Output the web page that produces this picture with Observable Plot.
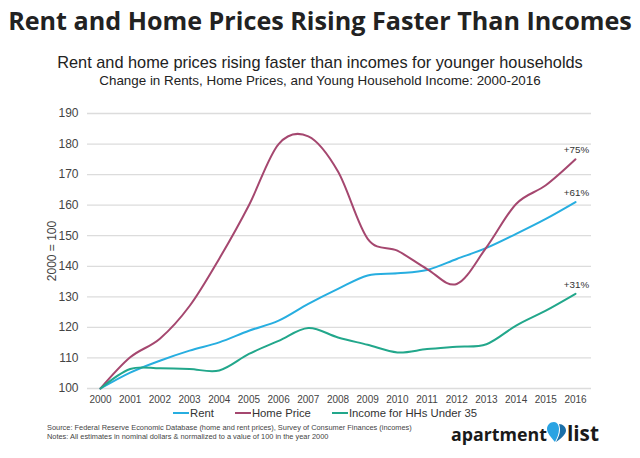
<!DOCTYPE html>
<html><head><meta charset="utf-8">
<script src="https://cdn.jsdelivr.net/npm/d3@7"></script>
<script src="https://cdn.jsdelivr.net/npm/@observablehq/plot@0.6"></script>
<style>
body{margin:0;background:#fff;width:640px;height:458px;position:relative;overflow:hidden;font-family:"Liberation Sans",Arial,sans-serif;color:#222}
.row{position:absolute;left:0;width:640px;text-align:center;white-space:nowrap}
.fit{display:inline-block;white-space:nowrap}
#title{top:3px;line-height:34px}
#title .fit{font-family:"Open Sans",sans-serif;font-weight:700;font-size:26px;color:#222}
#sub1{top:52px;line-height:20px}
#sub1 .fit{font-size:17px;color:#222}
#sub2{top:72px;line-height:16px}
#sub2 .fit{font-size:13px;color:#222}
#chart{position:absolute;left:0;top:90px}
#legend{position:absolute;top:406px;left:173px;line-height:14px;font-size:11.3px;color:#333;white-space:nowrap}
#legend .item{display:inline-block;margin-right:21px}
#legend .sw{display:inline-block;width:16px;height:2px;vertical-align:middle;margin-right:1px;position:relative;top:-1px}
#source{position:absolute;left:47px;top:423px;font-size:7.4px;line-height:9px;color:#444;white-space:nowrap}
#logo{position:absolute;left:451px;top:420px;white-space:nowrap;font-family:"Open Sans",sans-serif;font-weight:700;font-size:22px;line-height:24px;color:#1a1a1a}
#logo svg{vertical-align:-2px}
</style></head><body>
<div id="title" class="row"><span class="fit" data-w="624">Rent and Home Prices Rising Faster Than Incomes</span></div>
<div id="sub1" class="row"><span class="fit" data-w="526">Rent and home prices rising faster than incomes for younger households</span></div>
<div id="sub2" class="row"><span class="fit" data-w="442">Change in Rents, Home Prices, and Young Household Income: 2000-2016</span></div>
<div id="chart"></div>
<div id="legend"></div>
<div id="source"><span class="fit" data-w="365">Source: Federal Reserve Economic Database (home and rent prices), Survey of Consumer Finances (incomes)</span><br><span>Notes: All estimates in nominal dollars &amp; normalized to a value of 100 in the year 2000</span></div>
<div id="logo"><span class="fit" data-w="96">apartment</span><svg width="20" height="22" viewBox="0 0 20 22"><path d="M7 1 C2.5 1 0 4.5 0 8 C0 12 4 16 8 21 C10 17 12 13 12 8 C12 4 10 1 7 1Z" fill="#2aa3e3"/><path d="M12 3 C16 3 19 6 19 9.5 C19 13 15 17 9 21 C11 17 13 13 13 9 C13 6.5 12.5 4.5 12 3Z" fill="#1b6fa8"/></svg><span class="fit" data-w="32">list</span></div>
<script>
const years = [2000,2001,2002,2003,2004,2005,2006,2007,2008,2009,2010,2011,2012,2013,2014,2015,2016];
const rent = [100,105.2,109.1,112.4,115.1,118.9,122.2,127.7,132.6,137,137.7,138.8,142.4,146,150.6,155.5,161];
const homePrice = [100,110.2,116.3,127,142.5,160,180,182.5,171,149,145.1,139.1,134.2,146.2,160.4,166.5,175];
const income = [100,106.4,106.6,106.4,105.9,111.3,115.6,119.8,116.7,114.3,111.8,112.9,113.7,114.5,120.6,125.5,131];
const seriesNames = ["Rent","Home Price","Income for HHs Under 35"];
const seriesColors = ["#27aee0","#a5476f","#22a78b"];
const endLabels = ["+61%","+75%","+31%"];
const yTicks = [100,110,120,130,140,150,160,170,180,190];

const seriesValues = [rent, homePrice, income];
const data = seriesNames.flatMap((s,i)=>years.map((y,j)=>({series:s, year:y, value:seriesValues[i][j]})));
const ends = seriesNames.map((s,i)=>({series:s, year:years[years.length-1], value:seriesValues[i][years.length-1], label:endLabels[i]}));

const chart = Plot.plot({
  width:640, height:316,
  marginLeft:87, marginRight:49, marginTop:23, marginBottom:18,
  style:{fontFamily:'"Liberation Sans",Arial,sans-serif', background:"#fff"},
  x:{type:"linear", domain:[2000,2016], insetLeft:13, insetRight:16},
  y:{domain:[100,190]},
  color:{domain:seriesNames, range:seriesColors},
  marks:[
    Plot.gridY(yTicks,{stroke:"#dcdcdc", strokeOpacity:1, strokeWidth:1.3}),
    Plot.axisY(yTicks,{tickSize:0, tickPadding:9, fontSize:12, fill:"#444", label:"2000 = 100", labelAnchor:"center", labelOffset:40, labelArrow:"none", tickFormat:d=>String(d)}),
    Plot.axisX(years,{tickSize:0, tickPadding:7, fontSize:10, fill:"#444", label:null, tickFormat:d=>String(d)}),
    Plot.line(data,{x:"year", y:"value", stroke:"series", curve:"catmull-rom", tension:0, strokeWidth:2}),
    Plot.text(ends,{x:"year", y:"value", text:"label", dy:-9, dx:1, fontSize:9.8, fill:"#333"})
  ]
});
document.getElementById("chart").append(chart);

const legend = document.getElementById("legend");
seriesNames.forEach((s,i)=>{
  const it = document.createElement("span"); it.className="item";
  const sw = document.createElement("span"); sw.className="sw"; sw.style.background=seriesColors[i];
  it.append(sw, document.createTextNode(s));
  legend.append(it);
});

document.querySelectorAll(".fit[data-w]").forEach(el=>{
  const w = el.getBoundingClientRect().width;
  const fs = parseFloat(getComputedStyle(el).fontSize);
  el.style.fontSize = (fs*(+el.dataset.w)/w)+"px";
});
</script>
</body></html>
